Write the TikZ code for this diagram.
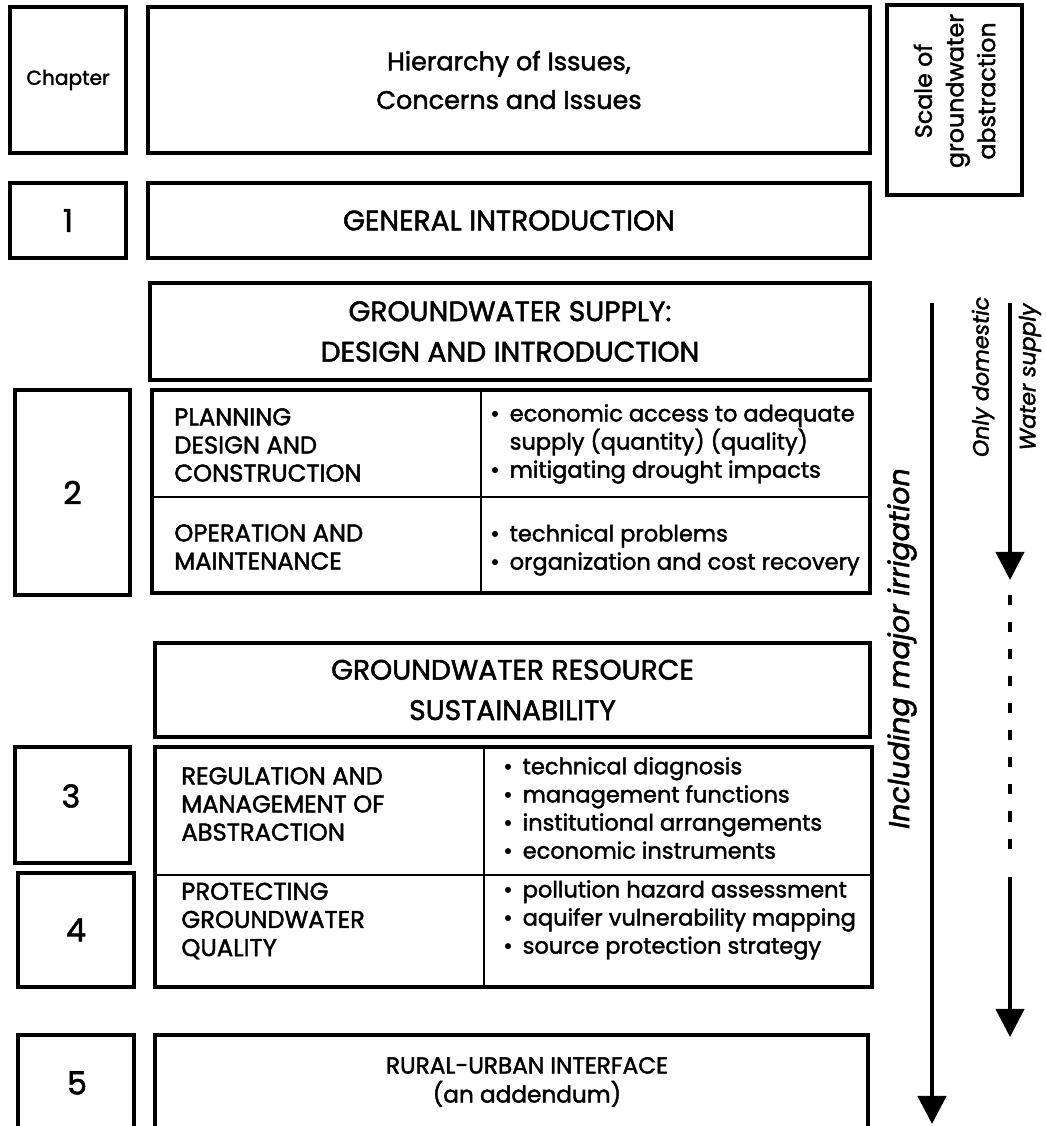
\documentclass[tikz,border=0pt]{standalone}
\usepackage{fontspec}
\setmainfont{Poppins}[FakeBold=1.8]
\usetikzlibrary{arrows.meta}

\newcommand{\bul}{\textbullet\hspace{0.45em}}
\newcommand{\bulgap}{\hphantom{\textbullet}\hspace{0.45em}}

\begin{document}
\begin{tikzpicture}[
    font=\fontsize{12.8}{16}\selectfont,
    box/.style={draw, line width=2.5pt, inner sep=0pt, align=center},
    head/.style={font=\fontsize{16}{23}\selectfont, align=center},
    num/.style={font=\fontsize{18}{20}\selectfont},
    cell/.style={anchor=west, align=left, inner sep=0pt},
    caps/.style={cell, font=\fontsize{13.8}{16}\selectfont},
    rule/.style={line width=1pt},
    side/.style={rotate=90, font=\fontsize{12.6}{16}\selectfont\itshape},
    flow/.style={line width=2.4pt, -{Triangle[width=16pt,length=16pt]}}]
    \useasboundingbox (0,0) rectangle (20.9,22.52);

    % heading row
    \node[box, minimum width=2.32cm, minimum height=2.92cm, font=\fontsize{11.5}{14}\selectfont] (chap) at (1.36,20.92) {Chapter};
    \node[box, minimum width=14.44cm, minimum height=2.92cm, font=\fontsize{14.5}{22}\selectfont] (title) at (10.18,20.92) {Hierarchy of Issues,\\Concerns and Issues};
    \node[box, minimum width=2.7cm, minimum height=3.8cm] (scale) at (19.09,20.52) {};
    \node[rotate=90, align=center, font=\fontsize{13.5}{18}\selectfont] (scaletext) at (19.09,20.7) {Scale of\\groundwater\\abstraction};

    % chapter 1
    \node[box, num, minimum width=2.32cm, minimum height=1.5cm] (ch1) at (1.36,18.11) {1};
    \node[box, head, minimum width=14.44cm, minimum height=1.5cm] (intro) at (10.18,18.11) {GENERAL INTRODUCTION};

    % chapter 2
    \node[box, head, minimum width=14.4cm, minimum height=1.94cm] (supply) at (10.2,15.89) {GROUNDWATER SUPPLY:\\DESIGN AND INTRODUCTION};
    \node[box, num, minimum width=2.3cm, minimum height=4.1cm] (ch2) at (1.45,12.67) {2};
    \draw[line width=2.5pt] (3.04,10.66) rectangle (17.4,14.72);
    \draw[rule] (9.62,14.72) -- (9.62,10.66);
    \draw[rule] (3.04,12.58) -- (17.4,12.58);
    \node[caps] (plan) at (3.48,13.62) {PLANNING\\DESIGN AND\\CONSTRUCTION};
    \node[caps] (oper) at (3.48,11.58) {OPERATION AND\\MAINTENANCE};
    \node[cell] (planitems) at (9.8,13.64) {\bul economic access to adequate\\\bulgap supply (quantity) (quality)\\\bul mitigating drought impacts};
    \node[cell] (operitems) at (9.8,11.52) {\bul technical problems\\\bul organization and cost recovery};

    % chapters 3 and 4
    \node[box, head, minimum width=14.3cm, minimum height=1.88cm] (resource) at (10.25,8.72) {GROUNDWATER RESOURCE\\SUSTAINABILITY};
    \node[box, num, minimum width=2.3cm, minimum height=2.32cm] (ch3) at (1.45,6.42) {};
    \node[num] (ch3num) at (1.42,6.6) {3};
    \node[box, num, minimum width=2.32cm, minimum height=2.28cm] (ch4) at (1.52,3.92) {4};
    \draw[line width=2.5pt] (3.1,2.78) rectangle (17.44,7.58);
    \draw[rule] (9.68,7.58) -- (9.68,2.78);
    \draw[rule] (3.1,5.02) -- (17.44,5.02);
    \node[caps] (regul) at (3.62,6.44) {REGULATION AND\\MANAGEMENT OF\\ABSTRACTION};
    \node[caps] (protect) at (3.62,4.1) {PROTECTING\\GROUNDWATER\\QUALITY};
    \node[cell] (regulitems) at (10.06,6.36) {\bul technical diagnosis\\\bul management functions\\\bul institutional arrangements\\\bul economic instruments};
    \node[cell] (protectitems) at (10.06,4.12) {\bul pollution hazard assessment\\\bul aquifer vulnerability mapping\\\bul source protection strategy};

    % chapter 5
    \node[box, num, minimum width=2.32cm, minimum height=2.02cm] (ch5) at (1.52,0.81) {};
    \node[num] (ch5num) at (1.54,0.86) {5};
    \node[box, minimum width=14.26cm, minimum height=2.02cm] (rural) at (10.23,0.81) {};
    \node[align=center, font=\fontsize{13.2}{16.5}\selectfont] (ruraltext) at (10.54,0.88) {RURAL-URBAN INTERFACE\\(an addendum)};

    % scale of abstraction
    \coordinate (irrtop) at (18.64,16.46);
    \coordinate (irrend) at (18.64,0.04);
    \draw[flow] (irrtop) -- (irrend);
    \node[side, font=\fontsize{16.2}{20}\selectfont\itshape] (irr) at (18.04,9.55) {Including major irrigation};

    \coordinate (domtop) at (20.2,16.46);
    \coordinate (domend) at (20.2,10.92);
    \coordinate (dashtop) at (20.2,10.62);
    \coordinate (dashend) at (20.2,5.28);
    \coordinate (lowtop) at (20.2,4.98);
    \coordinate (lowend) at (20.2,1.78);
    \draw[flow] (domtop) -- (domend);
    \draw[line width=2.4pt, dash pattern=on 5.7pt off 9.7pt] (dashtop) -- (dashend);
    \draw[flow] (lowtop) -- (lowend);
    \node[side] (dom) at (19.66,14.98) {Only domestic};
    \node[side] (water) at (20.6,14.98) {Water supply};
\end{tikzpicture}
\end{document}
